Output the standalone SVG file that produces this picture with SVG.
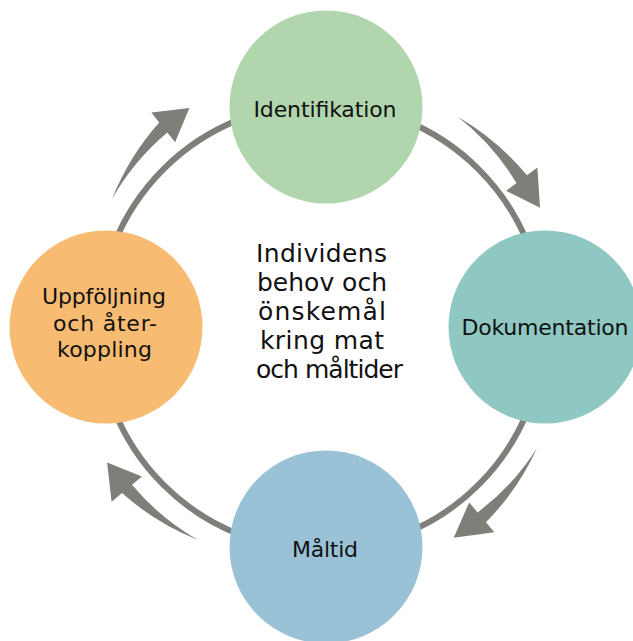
<svg xmlns="http://www.w3.org/2000/svg" width="633" height="641" viewBox="0 0 633 641">
<style>
.lbl{font-family:"DejaVu Sans","Noto Sans","Liberation Sans",sans-serif;font-size:22px;fill:#111;text-anchor:middle}
.ctr{font-size:25px}
.arr{fill:#7f7e78;stroke:none}
</style>
<rect width="633" height="641" fill="#ffffff"/>
<g id="connectors">
<circle cx="321" cy="327" r="223" fill="none" stroke="#7f7e78" stroke-width="6"/>
<path class="arr" d="M458,117 A255 255 0 0 1 527,175.3 L537.4,167.6 L540,207.7 L506.1,190.8 L516.5,183.1 A240 240 0 0 0 458,117 Z"/>
<path class="arr" d="M537,448 A255 255 0 0 1 485.9,522.3 L494.3,532.3 L453.7,537.7 L469.2,502.4 L477.6,512.4 A240 240 0 0 0 537,448 Z"/>
<path class="arr" d="M198,540 A258 258 0 0 1 122,493.1 L111.6,501.7 L107.1,462.4 L142,476.5 L132,484.8 A245 245 0 0 0 198,540 Z"/>
<path class="arr" d="M112,199 A258 258 0 0 1 159.2,122.4 L151.4,112.6 L189.4,108 L175.1,142.3 L167.3,132.5 A245 245 0 0 0 112,199 Z"/>
</g>
<g id="node-identifikation">
<circle cx="326" cy="107" r="96.5" fill="#b1d6ae"/>
<text class="lbl" x="325" y="117" textLength="143">Identifikation</text>
</g>
<g id="node-dokumentation">
<circle cx="545" cy="327" r="96.5" fill="#8fc8c2"/>
<text class="lbl" x="545" y="335" textLength="167">Dokumentation</text>
</g>
<g id="node-maltid">
<circle cx="326" cy="547" r="96.5" fill="#99c2d7"/>
<text class="lbl" x="325" y="557" textLength="66">Måltid</text>
</g>
<g id="node-uppfoljning">
<circle cx="106" cy="327" r="96.5" fill="#f7bb72"/>
<text class="lbl" x="104" y="304" textLength="124">Uppföljning</text>
<text class="lbl" x="105" y="331" textLength="104">och åter-</text>
<text class="lbl" x="104.5" y="357" textLength="95">koppling</text>
</g>
<g id="center-text">
<text class="lbl ctr" x="321.5" y="262" textLength="131">Individens</text>
<text class="lbl ctr" x="322" y="291" textLength="130">behov och</text>
<text class="lbl ctr" x="322" y="320" textLength="128">önskemål</text>
<text class="lbl ctr" x="322" y="349" textLength="124">kring mat</text>
<text class="lbl ctr" x="329.5" y="378" textLength="147">och måltider</text>
</g>
</svg>
